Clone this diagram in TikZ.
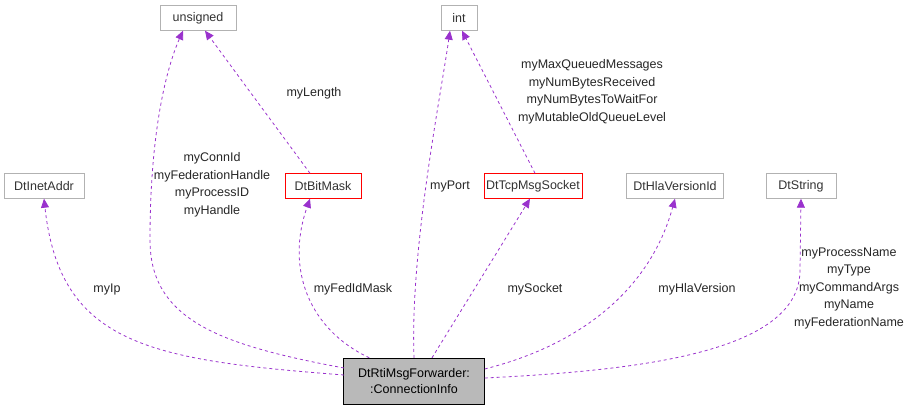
\documentclass[tikz,border=0pt]{standalone}
\usepackage{fontspec}
\setmainfont{Liberation Sans}
\usetikzlibrary{arrows.meta}
\definecolor{edgec}{HTML}{9A32CD}
\begin{document}
\begin{tikzpicture}[x=1pt,y=-1pt,font=\fontsize{12.5}{17.5}\selectfont,
  box/.style={draw=gray!60,fill=white,minimum height=25pt,inner xsep=2pt,text=black!80},
  redbox/.style={box,draw=red},
  edge/.style={draw=edgec,dashed,line width=0.8pt,-{Triangle[length=9pt,width=8pt,fill=edgec]}},
  lab/.style={align=center,text=black!85,inner sep=0pt}]
\useasboundingbox (0,0) rectangle (912,411);
\node[box,minimum width=76pt] (uns) at (198,18) {unsigned};
\node[box,minimum width=36pt] (int) at (459,18) {int};
\node[box,minimum width=80pt] (inet) at (44,186) {DtInetAddr};
\node[redbox,minimum width=76pt] (bit) at (323,186) {DtBitMask};
\node[redbox,minimum width=98pt] (tcp) at (533,186) {DtTcpMsgSocket};
\node[box,minimum width=97pt] (hla) at (675,186) {DtHlaVersionId};
\node[box,minimum width=70pt] (str) at (801,186) {DtString};
\node[draw=black,fill=gray!55,minimum width=141pt,minimum height=46pt,align=center,inner sep=2pt,font=\fontsize{12.5}{16}\selectfont] (main) at (414,381) {DtRtiMsgForwarder:\\:ConnectionInfo};
\coordinate (m1) at (344,375);
\coordinate (m2) at (344,368);
\draw[edge] (m1) .. controls (150,360) and (60,345) .. (inet.south);
\draw[edge] (m2) .. controls (220,345) and (150,320) .. (150,240) .. controls (150,120) and (170,60) .. (uns.south -| 183,0);
\draw[edge] (main.north west) ++(26,0) .. controls (310,330) and (285,270) .. (bit.south -| 310,0);
\draw[edge] (bit.north -| 310,0) -- (uns.south -| 205,0);
\draw[edge] (main.north) .. controls (410,250) and (440,100) .. (int.south -| 450,0);
\draw[edge] (main.north) ++(18,0) -- (tcp.south -| 530,0);
\draw[edge] (tcp.north -| 535,0) -- (int.south -| 462,0);
\draw[edge] (main.east) ++(0,-12) .. controls (580,345) and (650,290) .. (hla.south);
\draw[edge] (main.east) ++(0,-3) .. controls (650,370) and (800,350) .. (800,270) -- (str.south);
\node[lab] (l1) at (107,289) {myIp};
\node[lab] (l2) at (212,185) {myConnId\\myFederationHandle\\myProcessID\\myHandle};
\node[lab] (l3) at (314,93) {myLength};
\node[lab] (l4) at (353,289) {myFedIdMask};
\node[lab] (l5) at (450,186) {myPort};
\node[lab] (l6) at (592,92) {myMaxQueuedMessages\\myNumBytesReceived\\myNumBytesToWaitFor\\myMutableOldQueueLevel};
\node[lab] (l7) at (535,289) {mySocket};
\node[lab] (l8) at (697,289) {myHlaVersion};
\node[lab] (l9) at (849,288) {myProcessName\\myType\\myCommandArgs\\myName\\myFederationName};
\end{tikzpicture}
\end{document}
